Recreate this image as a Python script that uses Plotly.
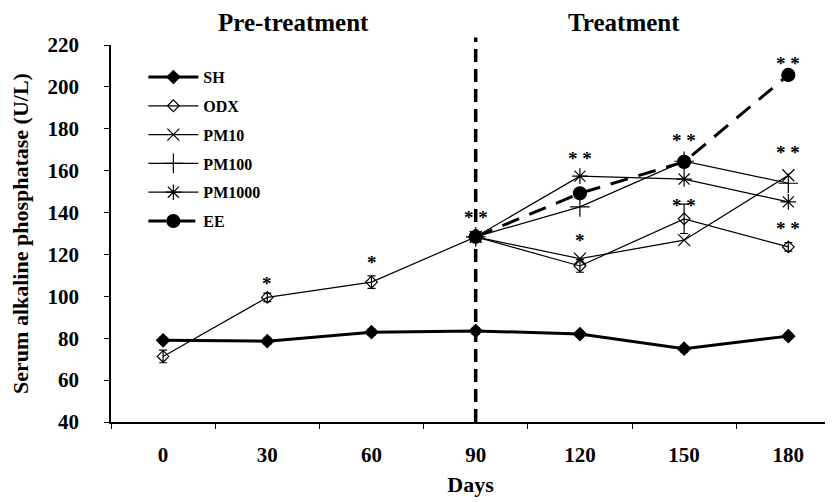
import plotly.graph_objects as go

days = [0, 30, 60, 90, 120, 150, 180]
sh = [79, 78.6, 82.9, 83.5, 82, 75, 81]
sh_err = [1.5, 1.5, 1.5, 1.5, 1.5, 1.5, 1.5]
odx = [71.3, 99.5, 106.8, 128.4, 114.5, 137, 123.6]
odx_err = [3, 2, 3, 2, 3, 7, 2]
pm10 = [None, None, None, 128.4, 118, 126.8, 157.8]
pm100 = [None, None, None, 128.4, 142.7, 164.5, 154]
pm1000 = [None, None, None, 128.4, 157.4, 156, 145.1]
ee = [None, None, None, 128.4, 149.2, 164.2, 205.7]

# significance marks: (day, value, text)
sig_x = [30, 60, 90, 120, 120, 150, 150, 180, 180, 180]
sig_y = [106, 116, 137.8, 166, 126.8, 174.6, 143.5, 211.4, 168.8, 132.5]
sig_t = ["*", "*", "* *", "* *", "*", "* *", "* *", "* *", "* *", "* *"]

FONT = "Liberation Serif"

fig = go.Figure()

def add(name, y, symbol, size, lw, dash="solid", err=None):
    fig.add_trace(go.Scatter(
        x=days, y=y, name=name, mode="lines+markers",
        line=dict(color="black", width=lw, dash=dash),
        marker=dict(symbol=symbol, size=size, color="black",
                    line=dict(color="black", width=1.2)),
        error_y=(dict(type="data", array=err, visible=True, color="black",
                      thickness=1.2, width=4) if err else None),
        legendgroup=name, connectgaps=False,
    ))

add("SH", sh, "diamond", 10, 3, err=sh_err)
add("ODX", odx, "diamond-open", 9, 1.2, err=odx_err)
add("PM10", pm10, "x-thin-open", 12, 1.2)
add("PM100", pm100, "cross-thin-open", 14, 1.2)
add("PM1000", pm1000, "asterisk-open", 13, 1.2)
add("EE", ee, "circle", 13, 3, dash="18px,11px")

fig.add_shape(type="line", x0=90, x1=90, xref="x", yref="paper", y0=0, y1=1.02,
              line=dict(color="black", width=3.5, dash="13px,7px"))

for x, y, t in zip(sig_x, sig_y, sig_t):
    fig.add_annotation(x=x, y=y, text=t, showarrow=False,
                       font=dict(family=FONT, size=19, color="black", weight="bold"),
                       xanchor="center", yanchor="middle")

fig.add_annotation(x=0.2545, y=1.061, xref="paper", yref="paper",
                   text="Pre-treatment", showarrow=False,
                   xanchor="center", yanchor="middle",
                   font=dict(family=FONT, size=25, color="black", weight="bold"))
fig.add_annotation(x=0.7135, y=1.061, xref="paper", yref="paper",
                   text="Treatment", showarrow=False,
                   xanchor="center", yanchor="middle",
                   font=dict(family=FONT, size=25, color="black", weight="bold"))

fig.update_layout(
    width=825, height=494,
    margin=dict(l=103, r=3, t=37, b=80),
    paper_bgcolor="white", plot_bgcolor="white",
    font=dict(family=FONT, color="black"),
    showlegend=True,
    legend=dict(x=0.045, y=0.96, xanchor="left", yanchor="top",
                bgcolor="rgba(0,0,0,0)", tracegroupgap=5,
                font=dict(family=FONT, size=16, color="black", weight="bold"),
                itemwidth=50),
    xaxis=dict(range=[-15, 192], tickvals=days, ticktext=[str(d) for d in days],
               ticks="", showline=True, linecolor="black", linewidth=1.5,
               showgrid=False, zeroline=False, ticklabelstandoff=13,
               automargin=False,
               tickfont=dict(family=FONT, size=21, color="black", weight="bold"),
               minor=dict(tickvals=[-15, 15, 45, 75, 105, 135, 165], ticks="outside",
                          ticklen=5, tickcolor="black", tickwidth=1.2),
               title=dict(text="Days", standoff=11,
                          font=dict(family=FONT, size=22, color="black", weight="bold"))),
    yaxis=dict(range=[40, 220], dtick=20, ticks="outside", ticklen=5,
               tickcolor="black", tickwidth=1.2,
               showline=True, linecolor="black", linewidth=1.5,
               showgrid=False, zeroline=False, ticklabelstandoff=21,
               automargin=False,
               tickfont=dict(family=FONT, size=21, color="black", weight="bold"),
               title=dict(text="Serum alkaline phosphatase (U/L)", standoff=14,
                          font=dict(family=FONT, size=22, color="black", weight="bold"))),
)

fig.write_html("out.html")
